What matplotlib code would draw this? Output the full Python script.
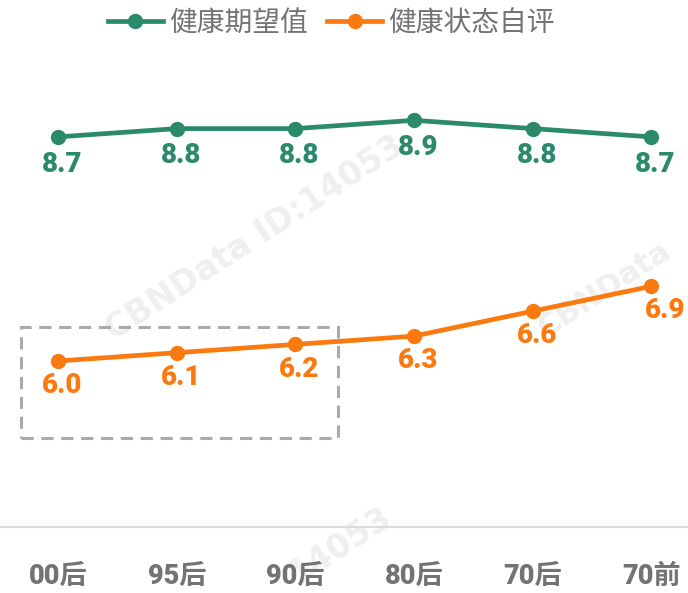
import matplotlib
matplotlib.use("Agg")
import matplotlib.pyplot as plt
from matplotlib.patches import Rectangle

categories = ["00后", "95后", "90后", "80后", "70后", "70前"]
expect_vals = [8.7, 8.8, 8.8, 8.9, 8.8, 8.7]
self_vals = [6.0, 6.1, 6.2, 6.3, 6.6, 6.9]
series_names = ["健康期望值", "健康状态自评"]

GREEN = "#2b8a6b"
ORANGE = "#fb7a10"
GRAY = "#737373"
NUMFONT = ["Roboto", "DejaVu Sans"]

W, H = 688, 593
fig = plt.figure(figsize=(W / 100, H / 100), dpi=100)
ax = fig.add_axes([0, (H - 527) / H, 1, 498 / H])
ax.set_xlim(-0.49, 5.31)
ax.set_ylim(4, 10)
for s in ["top", "right", "left"]:
    ax.spines[s].set_visible(False)
ax.spines["bottom"].set_color("#dcdcdc")
ax.spines["bottom"].set_linewidth(1.5)
ax.set_yticks([])
x = list(range(len(categories)))
ax.set_xticks(x)
ax.set_xticklabels(categories)
ax.tick_params(axis="x", length=0, pad=26)
for t in ax.get_xticklabels():
    t.set_fontfamily(["Roboto", "Noto Sans CJK SC"])
    t.set_fontweight("black")
    t.set_fontsize(19.5)
    t.set_color(GRAY)

l1, = ax.plot(x, expect_vals, color=GREEN, lw=3.4, marker="o", ms=10, label=series_names[0], clip_on=False, zorder=3)
l2, = ax.plot(x, self_vals, color=ORANGE, lw=3.4, marker="o", ms=10, label=series_names[1], clip_on=False, zorder=3)

lab_kw = dict(ha="center", va="top", fontsize=20, fontweight="black",
              fontfamily=NUMFONT, textcoords="offset points", zorder=4)
for xi, v in zip(x, expect_vals):
    ax.annotate(f"{v:.1f}", (xi, v), xytext=(3, -10), color=GREEN, **lab_kw)
for xi, v in zip(x, self_vals):
    dx = 10 if xi == len(x) - 1 else 3
    ax.annotate(f"{v:.1f}", (xi, v), xytext=(dx, -8), color=ORANGE, **lab_kw)

# dashed highlight box
ax.add_patch(Rectangle((-0.31, 5.07), 2.67, 1.34, fill=False, ec="#aaaaaa", lw=2.2,
                       ls=(0, (4, 2.5)), zorder=2, clip_on=False))

# watermarks
wm_kw = dict(color="#efefef", fontsize=24, rotation=33, ha="center", va="center",
             fontweight="bold", zorder=0, transform=fig.transFigure, clip_on=False)
ax.text(255 / W, 1 - 238 / H, "CBNData ID:14053", **wm_kw)
ax.text(605 / W, 1 - 290 / H, "CBNData", fontsize=22, **{k: v for k, v in wm_kw.items() if k != "fontsize"})
ax.text(340 / W, 1 - 545 / H, "14053", **wm_kw)

leg = fig.legend(handles=[l1, l2], loc="center", bbox_to_anchor=(331 / W, 1 - 23 / H),
                 ncol=2, frameon=False, handlelength=2.0, handletextpad=0.2,
                 columnspacing=0.7, prop={"family": ["Noto Sans CJK SC"], "size": 20})
for t in leg.get_texts():
    t.set_color(GRAY)

fig.savefig("out.png", dpi=100)
